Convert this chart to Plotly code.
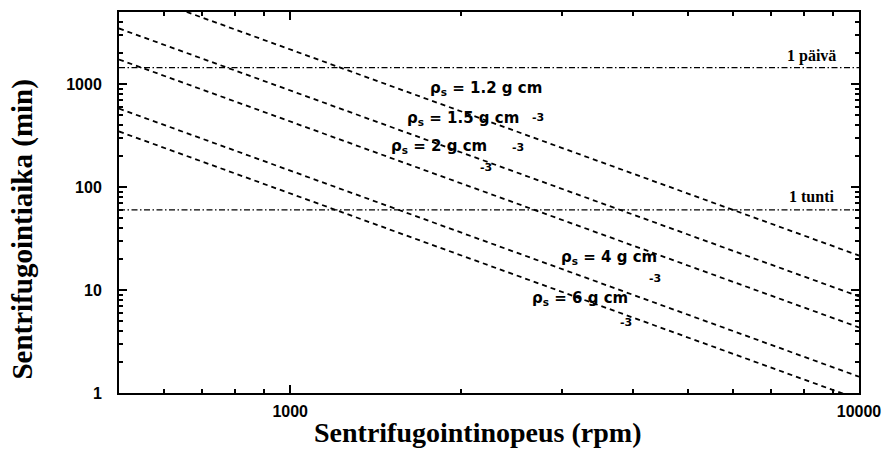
import math
import plotly.graph_objects as go

# ---- data ----
rpm = [500, 10000]
densities = ["1.2", "1.5", "2", "4", "6"]
times = {
    "1.2": [8660, 21.6],
    "1.5": [3460, 8.66],
    "2":   [1730, 4.33],
    "4":   [577, 1.44],
    "6":   [346, 0.866],
}
ref_lines = {"1 päivä": 1440, "1 tunti": 60}

x_major = [1000, 10000]
x_minor = [600, 700, 800, 900, 2000, 3000, 4000, 5000, 6000, 7000, 8000, 9000]
y_major = [1, 10, 100, 1000]
y_minor = [m * 10 ** d for d in range(0, 4) for m in range(2, 10) if m * 10 ** d <= 5000]

fig = go.Figure()

for d in densities:
    fig.add_trace(go.Scatter(
        x=rpm, y=times[d], mode="lines",
        line=dict(color="black", width=1.8, dash="5px,4px"),
        showlegend=False, hoverinfo="skip"))

for name, val in ref_lines.items():
    fig.add_trace(go.Scatter(
        x=rpm, y=[val, val], mode="lines",
        line=dict(color="black", width=1.3, dash="6px,2.5px,1.5px,2.5px"),
        showlegend=False, hoverinfo="skip"))

L = math.log10
sans = "DejaVu Sans"
serif = "Liberation Serif"
ann = []
# density labels (position in rpm, minutes)
label_pos = {
    "1.2": (1748, 903),
    "1.5": (1592, 467),
    "2":   (1489, 249),
    "4":   (2968, 20.9),
    "6":   (2645, 8.34),
}
for d in densities:
    px, py = label_pos[d]
    ann.append(dict(x=L(px), y=L(py), xref="x", yref="y", xanchor="left", yanchor="middle",
                    text="<b>ρ<sub>s</sub> = " + d + " g cm</b>", showarrow=False,
                    font=dict(family=sans, size=15, color="black")))
exp_pos = [(2731, 469), (2510, 241), (2212, 154), (4387, 13.0), (3890, 4.84)]
for px, py in exp_pos:
    ann.append(dict(x=L(px), y=L(py), xref="x", yref="y", xanchor="center", yanchor="middle",
                    text="<b>-3</b>", showarrow=False,
                    font=dict(family=sans, size=11, color="black")))
ref_label_pos = {"1 päivä": (9180, 1879), "1 tunti": (9100, 80.3)}
for name, (px, py) in ref_label_pos.items():
    ann.append(dict(x=L(px), y=L(py), xref="x", yref="y", xanchor="right", yanchor="middle",
                    text="<b>" + name + "</b>", showarrow=False,
                    font=dict(family=serif, size=16, color="black")))

# axis titles
ann.append(dict(x=0.4846, y=-0.104, xref="paper", yref="paper", xanchor="center", yanchor="middle",
                text="<b>Sentrifugointinopeus (rpm)</b>", showarrow=False,
                font=dict(family=serif, size=28, color="black")))
ann.append(dict(x=-0.130, y=0.431, xref="paper", yref="paper", xanchor="center", yanchor="middle",
                text="<b>Sentrifugointiaika (min)</b>", showarrow=False, textangle=-90,
                font=dict(family=serif, size=29, color="black")))

axis_common = dict(
    showgrid=False, zeroline=False, showline=True, linecolor="black", linewidth=2,
    mirror="ticks", ticks="inside", ticklen=8, tickwidth=1.5, tickcolor="black",
    tickfont=dict(family="Liberation Sans", size=16, color="black"),
)

fig.update_xaxes(type="log", range=[L(500), L(10000)], tickmode="array",
                 tickvals=x_major, ticktext=["<b>%d</b>" % v for v in x_major],
                 minor=dict(tickmode="array", tickvals=x_minor, ticks="inside", ticklen=4,
                            tickwidth=1.5, tickcolor="black"),
                 ticklabelstandoff=3,
                 **axis_common)
fig.update_yaxes(type="log", range=[L(1), L(5000)], tickmode="array",
                 tickvals=y_major, ticktext=["<b>%d</b>" % v for v in y_major],
                 minor=dict(tickmode="array", tickvals=y_minor, ticks="inside", ticklen=4,
                            tickwidth=1.5, tickcolor="black"),
                 ticklabelstandoff=12,
                 **axis_common)

fig.update_layout(
    width=891, height=454, autosize=False,
    margin=dict(l=119, r=27, t=10, b=61),
    plot_bgcolor="white", paper_bgcolor="white",
    annotations=ann, showlegend=False,
)

fig.write_html("out.html")
